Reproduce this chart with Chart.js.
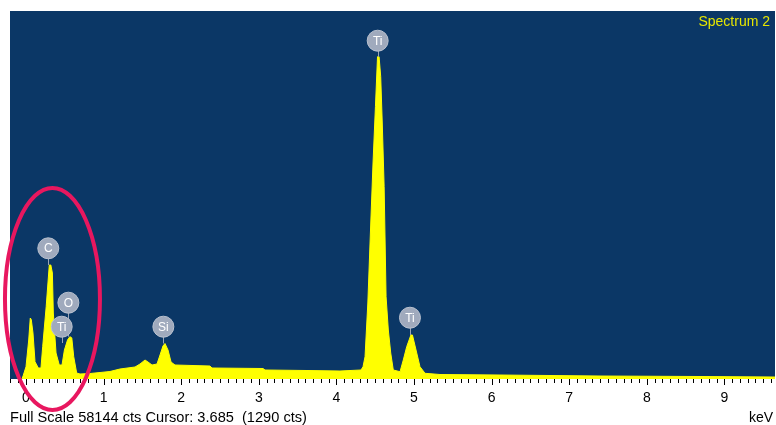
<!DOCTYPE html>
<html>
<head>
<meta charset="utf-8">
<script src="https://cdn.jsdelivr.net/npm/chart.js@4.4.1/dist/chart.umd.min.js"></script>
<style>
  html, body { margin: 0; padding: 0; background: #ffffff; }
  canvas { display: block; }
</style>
</head>
<body>
<canvas id="c" width="776" height="425"></canvas>
<script>
// ---- data ----
const energyKeV = [-0.052, -0.035, 0.000, 0.035, 0.055, 0.068, 0.090, 0.116, 0.159, 0.193,
  0.215, 0.260, 0.300, 0.320, 0.340, 0.352, 0.387, 0.429, 0.464,
  0.495, 0.535, 0.565, 0.590, 0.615, 0.653, 0.696, 0.825, 0.954, 1.082, 1.211, 1.405,
  1.469, 1.534, 1.572, 1.624, 1.688, 1.727, 1.765, 1.791, 1.830, 1.869, 1.920,
  2.371, 2.397, 3.054, 3.080, 3.621, 4.046, 4.317, 4.343, 4.369, 4.405, 4.438,
  4.472, 4.503, 4.530, 4.550, 4.571, 4.591, 4.615, 4.640, 4.669, 4.700, 4.733, 4.820,
  4.862, 4.906, 4.960, 4.980, 5.026, 5.077, 5.142, 5.335, 6.108, 7.397, 8.686, 9.652];
const counts = [0, 585, 1943, 6162, 9638, 9400, 7268, 2733, 1738, 1738,
  5103, 11423, 18012, 18012, 16748, 10428, 4108, 2212, 2212,
  4582, 6162, 6683, 6500, 3523, 948, 790, 869, 1027, 1185, 1580, 1896,
  2370, 3002, 2686, 2212, 2370, 3792, 5214, 5609, 4582, 2686, 2212,
  2054, 1738, 1659, 1422, 1343, 1264, 1422, 1943, 3523, 12008, 23068,
  34128, 43023, 50923, 50923, 47763, 40448, 30383, 13003, 7742, 4108, 1422, 1153,
  3002, 5103, 6952, 6952, 4582, 1943, 901, 711, 632, 474, 395, 316];

const tickLabelsKeV = [0, 1, 2, 3, 4, 5, 6, 7, 8, 9];
const fullScale = 58144;

const peakNames      = ['C', 'O', 'Ti', 'Si', 'Ti', 'Ti'];
const peakKeV        = [0.287, 0.546, 0.460, 1.770, 4.532, 4.948];
const peakLabelCts   = [20650, 12055, 8263, 8263, 53451, 9685];
const peakTopCts     = [18012, 6683, 5688, 5609, 50923, 6952];

const spectrumTitle = 'Spectrum 2';
const footerText = 'Full Scale 58144 cts Cursor: 3.685  (1290 cts)';
const unitText = 'keV';

// highlighted region (ellipse) in data units
const ringCenterKeV = 0.341, ringCenterCts = 12640, ringRadiusKeV = 0.612, ringRadiusCts = 17538;

const points = energyKeV.map((e, i) => ({ x: e, y: counts[i] }));

const FONT = '"Liberation Sans", Arial, sans-serif';

const decor = {
  id: 'decor',
  beforeDatasetsDraw(chart) {
    const { ctx, chartArea: a } = chart;
    ctx.save();
    ctx.fillStyle = '#0b3766';
    ctx.fillRect(a.left, a.top, a.right - a.left, a.bottom - a.top);
    ctx.restore();
  },
  afterDatasetsDraw(chart) {
    const { ctx, chartArea: a, scales } = chart;
    const xs = scales.x, ys = scales.y;
    ctx.save();
    // tick marks
    ctx.strokeStyle = '#000000';
    ctx.lineWidth = 1;
    const start = Math.ceil(xs.min * 10), end = Math.floor(xs.max * 10);
    for (let k = start; k <= end; k++) {
      const px = Math.round(xs.getPixelForValue(k / 10)) + 0.5;
      const len = (k % 10 === 0) ? 6 : 4;
      ctx.beginPath();
      ctx.moveTo(px, a.bottom);
      ctx.lineTo(px, a.bottom + len);
      ctx.stroke();
    }
    // peak label stems
    ctx.strokeStyle = '#9aa4b6';
    ctx.lineWidth = 1;
    for (let i = 0; i < peakNames.length; i++) {
      const px = Math.round(xs.getPixelForValue(peakKeV[i])) + 0.5;
      ctx.beginPath();
      ctx.moveTo(px, ys.getPixelForValue(peakLabelCts[i]));
      ctx.lineTo(px, ys.getPixelForValue(peakTopCts[i]));
      ctx.stroke();
    }
    // peak label circles
    for (let i = 0; i < peakNames.length; i++) {
      const px = xs.getPixelForValue(peakKeV[i]);
      const py = ys.getPixelForValue(peakLabelCts[i]);
      ctx.beginPath();
      ctx.arc(px, py, 10.5, 0, Math.PI * 2);
      ctx.fillStyle = '#a0aabd';
      ctx.fill();
      ctx.strokeStyle = '#b9c1cf';
      ctx.lineWidth = 1;
      ctx.stroke();
      ctx.fillStyle = '#ffffff';
      ctx.font = '12px ' + FONT;
      ctx.textAlign = 'center';
      ctx.textBaseline = 'middle';
      ctx.fillText(peakNames[i], px, py + 0.5);
    }
    // title text
    ctx.fillStyle = '#e6e600';
    ctx.font = '14px ' + FONT;
    ctx.textAlign = 'right';
    ctx.textBaseline = 'alphabetic';
    ctx.fillText(spectrumTitle, 770, 26);
    ctx.restore();
  },
  afterDraw(chart) {
    const { ctx, chartArea: a, scales } = chart;
    const xs = scales.x, ys = scales.y;
    ctx.save();
    ctx.fillStyle = '#000000';
    ctx.font = '14.6px ' + FONT;
    ctx.textAlign = 'left';
    ctx.textBaseline = 'alphabetic';
    ctx.fillText(footerText, a.left, 422);
    ctx.font = '14px ' + FONT;
    ctx.textAlign = 'right';
    ctx.fillText(unitText, 773, 422);
    // ellipse highlight
    const cx = xs.getPixelForValue(ringCenterKeV);
    const cy = ys.getPixelForValue(ringCenterCts);
    const rx = xs.getPixelForValue(ringCenterKeV + ringRadiusKeV) - cx;
    const ry = cy - ys.getPixelForValue(ringCenterCts + ringRadiusCts);
    ctx.beginPath();
    ctx.ellipse(cx, cy, rx, ry, 0, 0, Math.PI * 2);
    ctx.strokeStyle = '#e8175f';
    ctx.lineWidth = 4;
    ctx.stroke();
    ctx.restore();
  }
};

new Chart(document.getElementById('c'), {
  type: 'line',
  data: {
    datasets: [{
      data: points,
      borderColor: '#ffff00',
      backgroundColor: '#ffff00',
      borderWidth: 1,
      fill: 'origin',
      pointRadius: 0,
      tension: 0
    }]
  },
  options: {
    responsive: false,
    animation: false,
    devicePixelRatio: 1,
    layout: { padding: { left: 10, top: 11, right: 1, bottom: 0 } },
    plugins: { legend: { display: false }, tooltip: { enabled: false } },
    scales: {
      x: {
        type: 'linear',
        min: -0.2062,
        max: 9.652,
        grid: { display: false, drawTicks: false },
        border: { display: false },
        afterBuildTicks: (s) => { s.ticks = tickLabelsKeV.map(v => ({ value: v })); },
        afterFit: (s) => { s.height = 46; },
        ticks: {
          autoSkip: false,
          maxRotation: 0,
          padding: 11,
          color: '#000000',
          font: { family: FONT, size: 14 },
          callback: (v) => String(v)
        }
      },
      y: {
        display: false,
        min: 0,
        max: fullScale
      }
    }
  },
  plugins: [decor]
});
</script>
</body>
</html>
